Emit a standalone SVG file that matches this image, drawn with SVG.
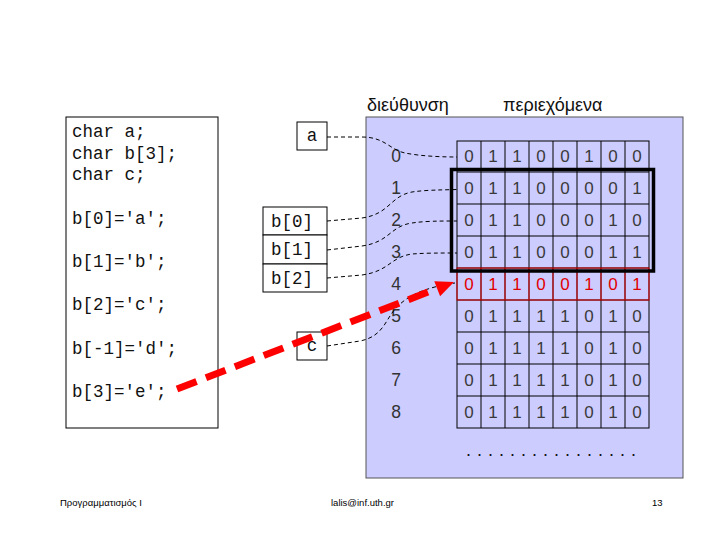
<svg xmlns="http://www.w3.org/2000/svg" width="720" height="540" viewBox="0 0 720 540">
<style>
.mono{font-family:"Liberation Mono","Courier New",monospace;font-size:17.5px;fill:#111}
.box{fill:#fff;stroke:#000;stroke-width:1}
.sans{font-family:"Liberation Sans",Arial,sans-serif}
.head{font-size:18px;fill:#111}
.addr{font-size:17.5px;fill:#333;text-anchor:middle}
.bits{font-size:17px;fill:#3a3a3a;text-anchor:middle}
.red{fill:#e00000}
.conn{fill:none;stroke:#000;stroke-width:1;stroke-dasharray:4 3}
.foot{font-size:9.5px;fill:#000}
</style>
<rect width="720" height="540" fill="#fff"/>
<g id="code">
<rect class="box" x="66" y="117" width="152" height="311"/>
<text class="mono" x="72" y="137">char a;</text>
<text class="mono" x="72" y="158.5">char b[3];</text>
<text class="mono" x="72" y="180">char c;</text>
<text class="mono" x="72" y="223.5">b[0]='a';</text>
<text class="mono" x="72" y="267">b[1]='b';</text>
<text class="mono" x="72" y="310">b[2]='c';</text>
<text class="mono" x="72" y="353.5">b[-1]='d';</text>
<text class="mono" x="72" y="397">b[3]='e';</text>
</g>
<g id="headings" class="sans head">
<text x="367" y="111">διεύθυνση</text>
<text x="503" y="111">περιεχόμενα</text>
</g>
<g id="memory">
<rect x="366" y="117" width="317" height="361" fill="#ccccff" stroke="#555" stroke-width="1"/>
<g class="sans addr">
<text x="396" y="162">0</text>
<text x="396" y="194">1</text>
<text x="396" y="226">2</text>
<text x="396" y="258">3</text>
<text x="396" y="290">4</text>
<text x="396" y="322">5</text>
<text x="396" y="354">6</text>
<text x="396" y="386">7</text>
<text x="396" y="418">8</text>
</g>
<g id="grid" fill="none" stroke="#000" stroke-width="1">
<rect x="457" y="141" width="192" height="287"/>
<path d="M457,172H649M457,204H649M457,236H649M457,268H649M457,300H649M457,332H649M457,364H649M457,396H649"/>
<path d="M481,141V428M505,141V428M529,141V428M553,141V428M577,141V428M601,141V428M625,141V428"/>
<rect x="457" y="268" width="192" height="32" stroke="#e00000"/>
<path stroke="#e00000" d="M481,268V300M505,268V300M529,268V300M553,268V300M577,268V300M601,268V300M625,268V300"/>
</g>
<g class="sans bits">
<text x="469 493 517 541 565 589 613 637" y="162">01100100</text>
<text x="469 493 517 541 565 589 613 637" y="194">01100001</text>
<text x="469 493 517 541 565 589 613 637" y="226">01100010</text>
<text x="469 493 517 541 565 589 613 637" y="258">01100011</text>
<text class="red" x="469 493 517 541 565 589 613 637" y="290">01100101</text>
<text x="469 493 517 541 565 589 613 637" y="322">01111010</text>
<text x="469 493 517 541 565 589 613 637" y="354">01111010</text>
<text x="469 493 517 541 565 589 613 637" y="386">01111010</text>
<text x="469 493 517 541 565 589 613 637" y="418">01111010</text>
</g>
<rect id="highlight" x="451.5" y="169.5" width="202" height="101.5" fill="none" stroke="#000" stroke-width="3.5"/>
<text class="sans" x="466" y="456" font-size="18" letter-spacing="6" fill="#111">................</text>
</g>
<g id="var-a">
<rect class="box" x="297" y="122" width="30" height="28"/>
<text class="mono" x="312" y="140.5" text-anchor="middle">a</text>
</g>
<g id="var-b">
<rect class="box" x="263" y="207" width="64" height="28"/>
<rect class="box" x="263" y="235" width="64" height="29"/>
<rect class="box" x="263" y="264" width="64" height="28"/>
<text class="mono" x="271" y="227">b[0]</text>
<text class="mono" x="271" y="255">b[1]</text>
<text class="mono" x="271" y="283.5">b[2]</text>
</g>
<g id="var-c">
<rect class="box" x="297" y="332" width="30" height="28"/>
<text class="mono" x="312" y="351" text-anchor="middle">c</text>
</g>
<g id="connectors">
<path class="conn" d="M327,137 L362,137 C385,137 390,150 405,153 C420,156 440,157 457,157"/>
<path class="conn" d="M327,221 L362,218 C390,214 390,196 412,192 C425,190 440,190 457,189.5"/>
<path class="conn" d="M327,250 L362,246 C390,242 390,226 412,223 C425,221 440,221 457,221"/>
<path class="conn" d="M327,278 L362,275 C390,271 390,257 412,254 C425,253 440,253 457,253"/>
<path class="conn" d="M327,346 L360,341 C385,336 385,318 398,306 C410,294 428,287 455,283"/>
<path d="M177,389 L437,288.6" fill="none" stroke="#f00" stroke-width="7" stroke-dasharray="21 10"/>
<polygon points="454,282 434.3,281.3 440.1,296.2" fill="#f00"/>
</g>
<g id="footer" class="sans foot">
<text x="60" y="506">Προγραμματισμός Ι</text>
<text x="331" y="506">lalis@inf.uth.gr</text>
<text x="652" y="506">13</text>
</g>
</svg>
